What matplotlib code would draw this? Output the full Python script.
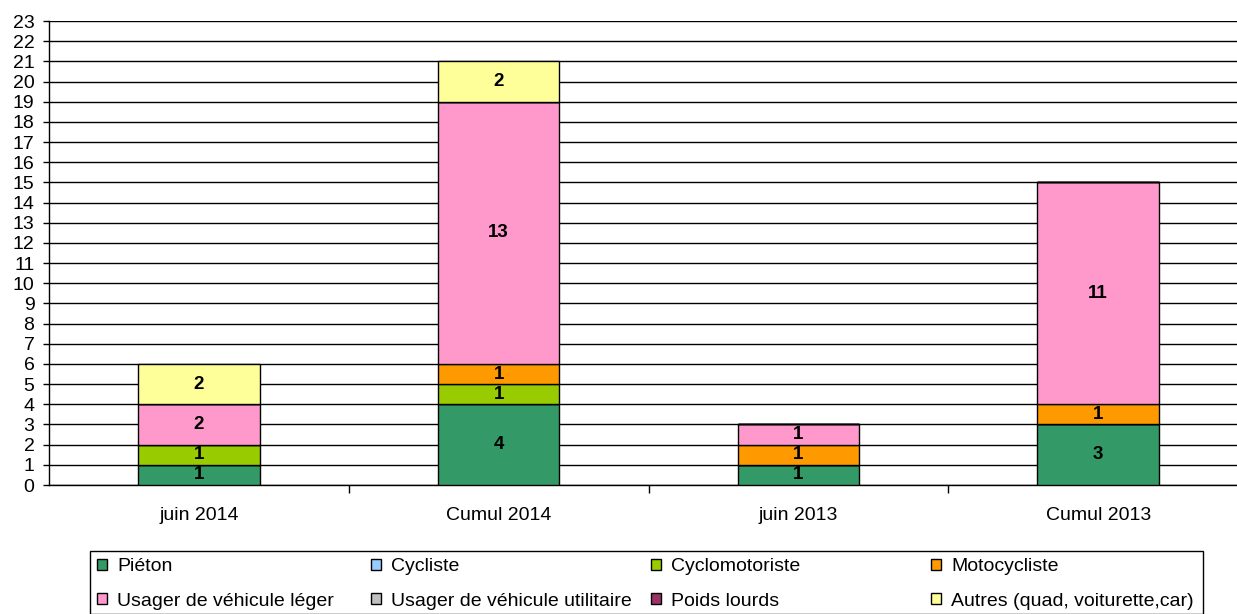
import numpy as np
import matplotlib.pyplot as plt
from matplotlib.patches import Rectangle

plt.rcParams['font.family'] = ['Liberation Sans', 'DejaVu Sans']

categories = ['juin 2014', 'Cumul 2014', 'juin 2013', 'Cumul 2013']
series_names = ['Piéton', 'Cycliste', 'Cyclomotoriste', 'Motocycliste',
                'Usager de véhicule léger', 'Usager de véhicule utilitaire',
                'Poids lourds', 'Autres (quad, voiturette,car)']
colors = ['#339966', '#99CCFF', '#99CC00', '#FF9900',
          '#FF99CC', '#C0C0C0', '#993366', '#FFFF99']

pieton = [1, 4, 1, 3]
cycliste = [0, 0, 0, 0]
cyclomoto = [1, 1, 0, 0]
moto = [0, 1, 1, 1]
vl = [2, 13, 1, 11]
utilitaire = [0, 0, 0, 0]
poids_lourds = [0, 0, 0, 0]
autres = [2, 2, 0, 0]

series = [pieton, cycliste, cyclomoto, moto, vl, utilitaire, poids_lourds, autres]

W, H = 1237, 614
fig = plt.figure(figsize=(W/100, H/100), dpi=100)
ax = fig.add_axes([49/W, 1-485/H, 1199/W, 464/H])

x = np.arange(len(categories))
bottom = np.zeros(len(categories))
handles = []
for name, vals, col in zip(series_names, series, colors):
    vals = np.array(vals, dtype=float)
    b = ax.bar(x, vals, 0.405, bottom=bottom, color=col, edgecolor='black',
               linewidth=1, label=name, zorder=3)
    handles.append(b)
    for xi, v, bt in zip(x, vals, bottom):
        if v > 0:
            ax.text(xi, bt + v/2, '%d' % v, ha='center', va='center',
                    fontsize=13.5, fontweight='bold', zorder=4)
    bottom += vals

ax.set_xlim(-0.5, 3.5)
ax.set_ylim(0, 23)
ax.set_yticks(range(0, 24))
ax.yaxis.grid(True, color='black', linewidth=1, zorder=0)
ax.set_axisbelow(True)
ax.tick_params(axis='y', labelsize=14, length=4.5, width=1, pad=6)
ax.set_xticks(x)
ax.set_xticklabels(categories, fontsize=14)
ax.set_xticks([0.5, 1.5, 2.5], minor=True)
ax.tick_params(axis='x', which='major', length=0, pad=16)
ax.tick_params(axis='x', which='minor', length=6, width=1)
for s in ['top', 'right']:
    ax.spines[s].set_visible(False)
ax.spines['left'].set_linewidth(1)
ax.spines['bottom'].set_linewidth(1)

# legend box, row-major order, evenly spaced columns
fig.patches.append(Rectangle((90/W, 0), (1203-90)/W, 1-551/H, transform=fig.transFigure,
                             facecolor='white', edgecolor='black', linewidth=1))
col_x = [97, 371, 651, 931]
for c in range(4):
    leg = fig.legend(handles=[handles[c], handles[c+4]], loc='upper left',
                     bbox_to_anchor=(col_x[c]/W, 1-558/H), fontsize=14, frameon=False,
                     handlelength=0.5, handleheight=0.5, handletextpad=0.55,
                     labelspacing=0.9, borderpad=0.0, borderaxespad=0)

fig.savefig('out.png', dpi=100)
